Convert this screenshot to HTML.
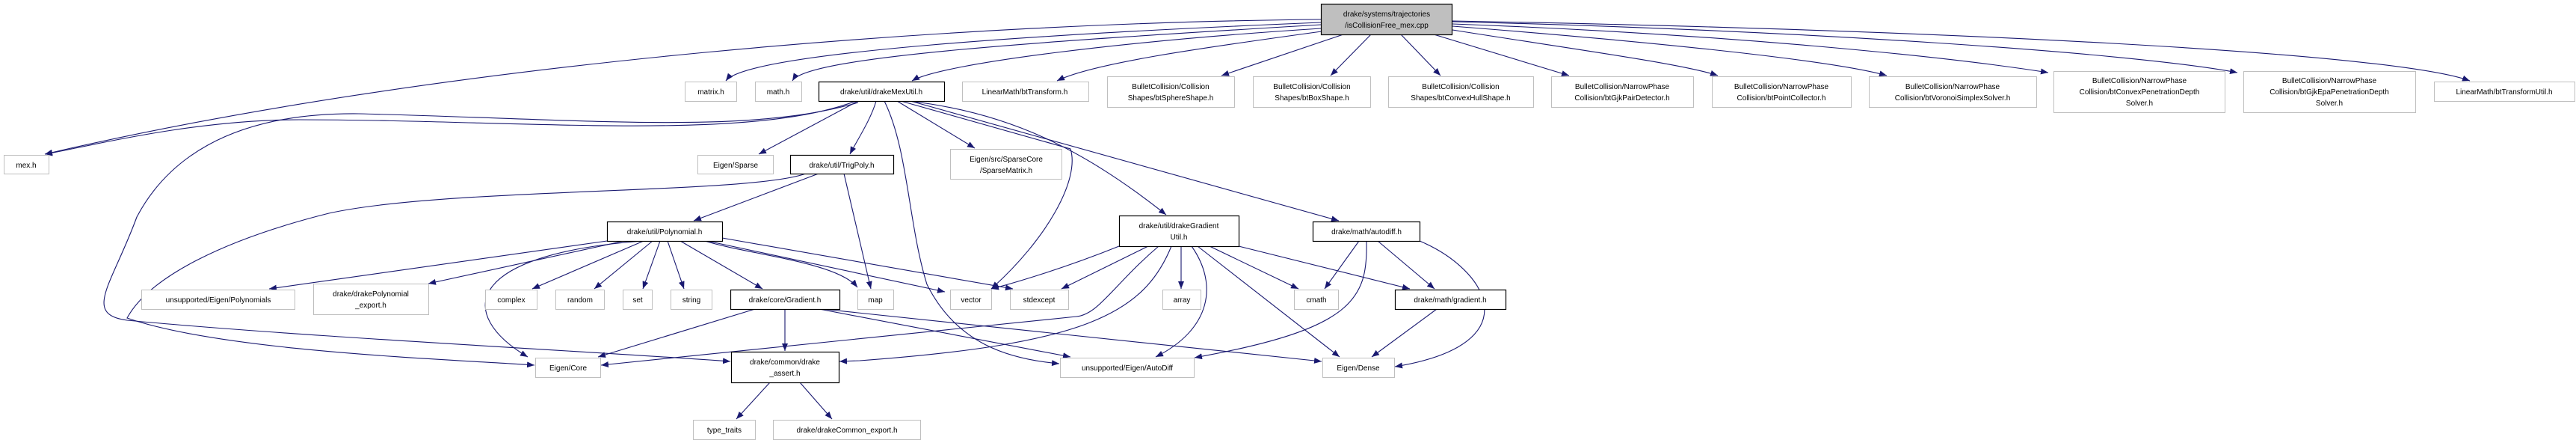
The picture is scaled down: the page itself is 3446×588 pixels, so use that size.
<!DOCTYPE html>
<html><head><meta charset="utf-8"><style>
html,body{margin:0;padding:0;background:#fff;}
svg{display:block;}
text{font-family:"Liberation Sans",Arial,sans-serif;font-size:10px;fill:#000;text-anchor:middle;}
.e{fill:none;stroke:#191970;stroke-width:1.1;marker-end:url(#a);}
.n{fill:#fff;stroke:#bfbfbf;stroke-width:1;}
.d{fill:#fff;stroke:#000;stroke-width:1.2;}
</style></head><body>
<svg width="3446" height="588" viewBox="0 0 3446 588" xmlns="http://www.w3.org/2000/svg">
<defs><marker id="a" markerUnits="userSpaceOnUse" markerWidth="11" markerHeight="8" refX="10" refY="4" orient="auto"><path d="M0,0 L10,4 L0,8 z" fill="#191970"/></marker></defs>
<g>
<!-- root edges -->
<path class="e" d="M1767,26 C1300,30 600,80 60,206"/>
<path class="e" d="M1767,30 C1400,45 1000,70 971,108"/>
<path class="e" d="M1767,33 C1400,55 1080,75 1060,108"/>
<path class="e" d="M1767,38 C1500,55 1260,85 1220,108"/>
<path class="e" d="M1768,42 C1600,65 1460,85 1414,108"/>
<path class="e" d="M1797,46 L1634,101"/>
<path class="e" d="M1834,46 L1780,101"/>
<path class="e" d="M1874,46 L1927,101"/>
<path class="e" d="M1918,46 L2099,101"/>
<path class="e" d="M1943,40 C2100,65 2250,85 2298,101"/>
<path class="e" d="M1943,35 C2200,55 2450,80 2524,101"/>
<path class="e" d="M1943,32 C2300,45 2600,75 2740,97"/>
<path class="e" d="M1943,29 C2400,40 2850,70 2993,97"/>
<path class="e" d="M1943,28 C2600,40 3200,70 3304,108"/>
<!-- drakeMexUtil edges -->
<path class="e" d="M1145,135 C1000,190 700,160 400,160 C250,160 100,200 60,206"/>
<path class="e" d="M1148,137 C1000,180 800,160 480,152 C300,150 220,220 183,290 C150,380 110,420 170,428 C400,450 800,470 977,483"/>
<path class="e" d="M1148,135 L1015,206"/>
<path class="e" d="M1172,135 C1165,160 1145,190 1137,206"/>
<path class="e" d="M1200,135 L1304,198"/>
<path class="e" d="M1205,135 L1432,199 C1445,240 1400,320 1326,386"/>
<path class="e" d="M1183,135 C1215,200 1215,300 1240,380 C1280,460 1350,480 1417,486"/>
<path class="e" d="M1215,135 C1350,150 1450,200 1560,287"/>
<path class="e" d="M1218,135 L1791,295"/>
<!-- TrigPoly -->
<path class="e" d="M1095,232 L928,295"/>
<path class="e" d="M1129,232 L1165,386"/>
<path class="e" d="M1078,232 C1000,260 600,250 440,285 C300,320 200,370 170,425 C300,470 600,480 715,488"/>
<!-- Polynomial -->
<path class="e" d="M812,322 L360,386"/>
<path class="e" d="M835,322 L573,379"/>
<path class="e" d="M860,322 C620,340 610,420 706,477"/>
<path class="e" d="M861,322 L712,386"/>
<path class="e" d="M873,322 L795,386"/>
<path class="e" d="M883,322 L860,386"/>
<path class="e" d="M893,322 L915,386"/>
<path class="e" d="M910,322 L1020,386"/>
<path class="e" d="M943,322 C1000,340 1120,350 1147,384"/>
<path class="e" d="M946,322 L1264,390"/>
<path class="e" d="M966,318 L1355,386"/>
<!-- Gradient.h -->
<path class="e" d="M1010,413 L800,477"/>
<path class="e" d="M1050,413 L1050,469"/>
<path class="e" d="M1096,413 L1432,477"/>
<path class="e" d="M1100,413 L1768,483"/>
<!-- drake_assert -->
<path class="e" d="M1030,511 L985,560"/>
<path class="e" d="M1070,511 L1113,560"/>
<!-- GradientUtil -->
<path class="e" d="M1497,329 C1420,360 1350,380 1326,386"/>
<path class="e" d="M1536,329 L1420,386"/>
<path class="e" d="M1550,329 C1490,380 1470,420 1440,423 L804,488"/>
<path class="e" d="M1567,329 C1530,420 1450,460 1150,482 L1123,483"/>
<path class="e" d="M1580,329 L1580,386"/>
<path class="e" d="M1594,329 C1630,380 1620,440 1546,477"/>
<path class="e" d="M1602,329 L1792,477"/>
<path class="e" d="M1618,329 L1737,386"/>
<path class="e" d="M1657,329 L1886,386"/>
<!-- autodiff.h -->
<path class="e" d="M1818,322 L1772,386"/>
<path class="e" d="M1828,322 C1830,400 1810,440 1598,478"/>
<path class="e" d="M1843,322 L1919,386"/>
<path class="e" d="M1899,322 C1990,360 2050,460 1866,490"/>
<!-- gradient.h -->
<path class="e" d="M1922,413 L1835,477"/>
</g>
<g>
<!-- root -->
<rect x="1767.5" y="5.5" width="175" height="41" fill="#bfbfbf" stroke="#000" stroke-width="1.2"/>
<text x="1855" y="22">drake/systems/trajectories</text><text x="1855" y="37">/isCollisionFree_mex.cpp</text>
<!-- row1 -->
<rect class="n" x="916.5" y="109.5" width="69" height="26"/><text x="951" y="126">matrix.h</text>
<rect class="n" x="1010.5" y="109.5" width="62" height="26"/><text x="1041" y="126">math.h</text>
<rect class="d" x="1095.5" y="109.5" width="168" height="26"/><text x="1179" y="126">drake/util/drakeMexUtil.h</text>
<rect class="n" x="1287.5" y="109.5" width="169" height="26"/><text x="1371" y="126">LinearMath/btTransform.h</text>
<rect class="n" x="1481.5" y="102.5" width="170" height="41"/><text x="1566" y="119">BulletCollision/Collision</text><text x="1566" y="134">Shapes/btSphereShape.h</text>
<rect class="n" x="1676.5" y="102.5" width="157" height="41"/><text x="1755" y="119">BulletCollision/Collision</text><text x="1755" y="134">Shapes/btBoxShape.h</text>
<rect class="n" x="1857.5" y="102.5" width="194" height="41"/><text x="1954" y="119">BulletCollision/Collision</text><text x="1954" y="134">Shapes/btConvexHullShape.h</text>
<rect class="n" x="2075.5" y="102.5" width="190" height="41"/><text x="2170" y="119">BulletCollision/NarrowPhase</text><text x="2170" y="134">Collision/btGjkPairDetector.h</text>
<rect class="n" x="2290.5" y="102.5" width="186" height="41"/><text x="2383" y="119">BulletCollision/NarrowPhase</text><text x="2383" y="134">Collision/btPointCollector.h</text>
<rect class="n" x="2500.5" y="102.5" width="224" height="41"/><text x="2612" y="119">BulletCollision/NarrowPhase</text><text x="2612" y="134">Collision/btVoronoiSimplexSolver.h</text>
<rect class="n" x="2747.5" y="95.5" width="229" height="55"/><text x="2862" y="111">BulletCollision/NarrowPhase</text><text x="2862" y="126">Collision/btConvexPenetrationDepth</text><text x="2862" y="141">Solver.h</text>
<rect class="n" x="3001.5" y="95.5" width="230" height="55"/><text x="3116" y="111">BulletCollision/NarrowPhase</text><text x="3116" y="126">Collision/btGjkEpaPenetrationDepth</text><text x="3116" y="141">Solver.h</text>
<rect class="n" x="3256.5" y="109.5" width="188" height="26"/><text x="3350" y="126">LinearMath/btTransformUtil.h</text>
<!-- row2 -->
<rect class="n" x="5.5" y="207.5" width="60" height="25"/><text x="35" y="224">mex.h</text>
<rect class="n" x="933.5" y="207.5" width="101" height="25"/><text x="984" y="224">Eigen/Sparse</text>
<rect class="d" x="1057.5" y="207.5" width="138" height="25"/><text x="1126" y="224">drake/util/TrigPoly.h</text>
<rect class="n" x="1271.5" y="199.5" width="149" height="40"/><text x="1346" y="216">Eigen/src/SparseCore</text><text x="1346" y="231">/SparseMatrix.h</text>
<!-- row 2.5 -->
<rect class="d" x="812.5" y="296.5" width="154" height="26"/><text x="889" y="313">drake/util/Polynomial.h</text>
<rect class="d" x="1497.5" y="288.5" width="160" height="41"/><text x="1577" y="305">drake/util/drakeGradient</text><text x="1577" y="320">Util.h</text>
<rect class="d" x="1756.5" y="296.5" width="143" height="26"/><text x="1828" y="313">drake/math/autodiff.h</text>
<!-- row3 -->
<rect class="n" x="189.5" y="387.5" width="205" height="26"/><text x="292" y="404">unsupported/Eigen/Polynomials</text>
<rect class="n" x="419.5" y="379.5" width="154" height="41"/><text x="496" y="396">drake/drakePolynomial</text><text x="496" y="411">_export.h</text>
<rect class="n" x="649.5" y="387.5" width="69" height="26"/><text x="684" y="404">complex</text>
<rect class="n" x="743.5" y="387.5" width="65" height="26"/><text x="776" y="404">random</text>
<rect class="n" x="833.5" y="387.5" width="39" height="26"/><text x="853" y="404">set</text>
<rect class="n" x="897.5" y="387.5" width="55" height="26"/><text x="925" y="404">string</text>
<rect class="d" x="977.5" y="387.5" width="146" height="26"/><text x="1050" y="404">drake/core/Gradient.h</text>
<rect class="n" x="1147.5" y="387.5" width="48" height="26"/><text x="1171" y="404">map</text>
<rect class="n" x="1271.5" y="387.5" width="55" height="26"/><text x="1299" y="404">vector</text>
<rect class="n" x="1351.5" y="387.5" width="78" height="26"/><text x="1390" y="404">stdexcept</text>
<rect class="n" x="1555.5" y="387.5" width="51" height="26"/><text x="1581" y="404">array</text>
<rect class="n" x="1731.5" y="387.5" width="59" height="26"/><text x="1761" y="404">cmath</text>
<rect class="d" x="1866.5" y="387.5" width="148" height="26"/><text x="1940" y="404">drake/math/gradient.h</text>
<!-- row4 -->
<rect class="n" x="716.5" y="478.5" width="87" height="26"/><text x="760" y="495">Eigen/Core</text>
<rect class="d" x="978.5" y="470.5" width="144" height="41"/><text x="1050" y="487">drake/common/drake</text><text x="1050" y="502">_assert.h</text>
<rect class="n" x="1418.5" y="478.5" width="179" height="26"/><text x="1508" y="495">unsupported/Eigen/AutoDiff</text>
<rect class="n" x="1769.5" y="478.5" width="96" height="26"/><text x="1817" y="495">Eigen/Dense</text>
<!-- row5 -->
<rect class="n" x="927.5" y="561.5" width="83" height="26"/><text x="969" y="578">type_traits</text>
<rect class="n" x="1034.5" y="561.5" width="197" height="26"/><text x="1133" y="578">drake/drakeCommon_export.h</text>
</g>
</svg>
</body></html>
